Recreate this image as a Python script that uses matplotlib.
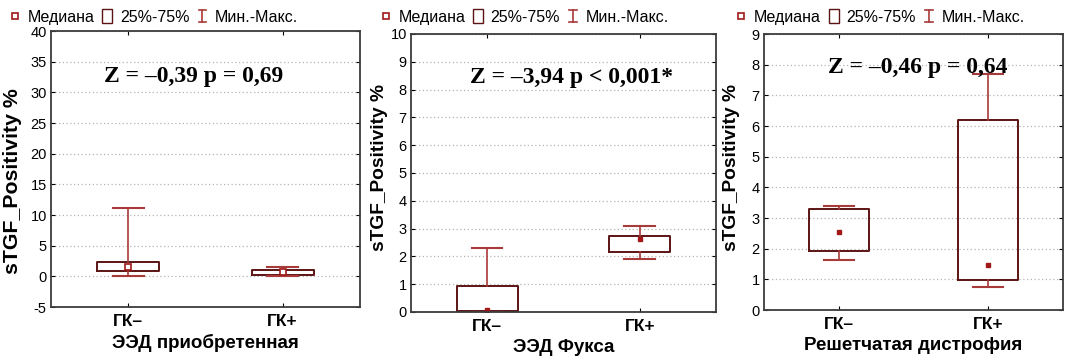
import matplotlib
matplotlib.use('Agg')
import matplotlib.pyplot as plt
from matplotlib.lines import Line2D
from matplotlib.patches import Rectangle
from matplotlib.legend_handler import HandlerBase

plt.rcParams['font.family'] = ['Liberation Sans', 'DejaVu Sans']
plt.rcParams['axes.unicode_minus'] = False

groups = ['ГК–', 'ГК+']
titles = ['ЭЭД приобретенная', 'ЭЭД Фукса', 'Решетчатая дистрофия']
stats_text = ['Z = –0,39 p = 0,69', 'Z = –3,94 p < 0,001*', 'Z = –0,46 p = 0,64']

# per panel: [ГК–, ГК+]
medians = [[1.47, 0.66], [0.07, 2.63], [2.55, 1.46]]
q1 = [[0.87, 0.2], [0.02, 2.15], [1.93, 0.97]]
q3 = [[2.3, 1.0], [0.92, 2.75], [3.3, 6.2]]
mins = [[0.06, 0.1], [0.0, 1.9], [1.62, 0.76]]
maxs = [[11.1, 1.5], [2.3, 3.1], [3.4, 7.7]]

ylims = [(-5, 40), (0, 10), (0, 9)]
ysteps = [5, 1, 1]

BOX_C = '#5c1414'
WHIS_C = '#a83a3a'
MED_C = '#a01818'


class WhiskerHandler(HandlerBase):
    def create_artists(self, legend, orig, xd, yd, w, h, fontsize, trans):
        cx = xd + w / 2
        lines = [
            Line2D([cx, cx], [yd, yd + h], color=WHIS_C, lw=1.2, transform=trans),
            Line2D([cx - w * 0.3, cx + w * 0.3], [yd, yd], color=WHIS_C, lw=1.2, transform=trans),
            Line2D([cx - w * 0.3, cx + w * 0.3], [yd + h, yd + h], color=WHIS_C, lw=1.2, transform=trans),
        ]
        return lines


class BoxHandler(HandlerBase):
    def create_artists(self, legend, orig, xd, yd, w, h, fontsize, trans):
        cx = xd + w / 2
        r = Rectangle((cx - h * 0.45, yd - h * 0.1), h * 0.9, h * 1.2, fc='white',
                      ec=BOX_C, lw=1.0, transform=trans)
        return [r]


class WhiskerKey:
    pass


class BoxKey:
    pass


axes_pos = [
    [0.0479, 0.1376, 0.290, 0.775],
    [0.3859, 0.1236, 0.2864, 0.781],
    [0.7174, 0.1292, 0.2808, 0.775],
]
ylabel_x = [-0.094, -0.075, -0.080]
ylabel_y = [0.457, 0.52, 0.515]
ylabel_size = [15.3, 13.8, 13.8]
text_pos = [(0.463, 0.837), (0.525, 0.842), (0.515, 0.88)]
legend_x = [0.008, 0.356, 0.690]

fig = plt.figure(figsize=(10.65, 3.56), dpi=100)

for i in range(3):
    ax = fig.add_axes(axes_pos[i])
    bstats = []
    for j in range(2):
        bstats.append({
            'med': medians[i][j], 'mean': medians[i][j],
            'q1': q1[i][j], 'q3': q3[i][j],
            'whislo': mins[i][j], 'whishi': maxs[i][j],
            'fliers': [],
        })
    if i == 0:
        meanprops = dict(marker='s', markersize=5, markerfacecolor='white',
                         markeredgecolor=MED_C, markeredgewidth=1.2)
    else:
        meanprops = dict(marker='s', markersize=2.5, markerfacecolor=MED_C,
                         markeredgecolor=MED_C)
    ax.bxp(bstats, positions=[1, 2], widths=0.4, capwidths=0.2,
           showmeans=True, meanprops=meanprops,
           boxprops=dict(color=BOX_C, lw=1.4),
           whiskerprops=dict(color=WHIS_C, lw=1.2),
           capprops=dict(color=WHIS_C, lw=1.5),
           medianprops=dict(lw=0))
    ax.set_xlim(0.5, 2.5)
    lo, hi = ylims[i]
    ax.set_ylim(lo, hi)
    ax.set_yticks(range(lo, hi + 1, ysteps[i]))
    ax.set_xticks([1, 2])
    ax.set_xticklabels(groups, fontsize=12.5, fontweight='bold')
    ax.tick_params(axis='y', labelsize=10.5, direction='in', length=3,
                   right=True, pad=3)
    ax.tick_params(axis='x', direction='in', length=3, top=True, pad=5)
    ax.yaxis.grid(True, color='#b4b4b4', linestyle=(0, (1, 2)), lw=0.9)
    ax.set_axisbelow(True)
    for sp in ax.spines.values():
        sp.set_color('#3c3c3c')
        sp.set_linewidth(1.3)
    ax.set_ylabel('sTGF_Positivity %', fontsize=ylabel_size[i], fontweight='bold')
    ax.yaxis.set_label_coords(ylabel_x[i], ylabel_y[i])
    ax.set_xlabel(titles[i], fontsize=13.5, fontweight='bold', labelpad=3.5)
    ax.text(text_pos[i][0], text_pos[i][1], stats_text[i], transform=ax.transAxes,
            ha='center', va='center', fontsize=17, fontweight='bold',
            family=['Liberation Serif', 'DejaVu Serif'])

    handles = [
        Line2D([], [], marker='s', ls='none', markersize=4, markerfacecolor='white',
               markeredgecolor=MED_C, markeredgewidth=1.2),
        BoxKey(), WhiskerKey(),
    ]
    fig.legend(handles, ['Медиана', '25%-75%', 'Мин.-Макс.'],
               handler_map={BoxKey: BoxHandler(), WhiskerKey: WhiskerHandler()},
               loc='center left', bbox_to_anchor=(legend_x[i], 0.952), ncol=3,
               frameon=False, fontsize=11.5, handlelength=0.8, handletextpad=0.4,
               columnspacing=0.4, borderaxespad=0, borderpad=0)

fig.savefig('out.png', dpi=100)
